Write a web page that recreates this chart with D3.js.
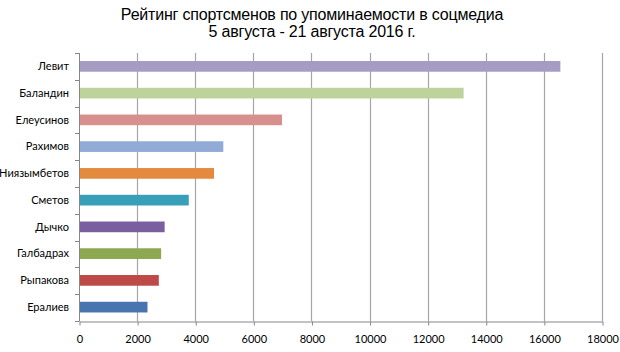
<!DOCTYPE html>
<html>
<head>
<meta charset="utf-8">
<script src="https://cdn.jsdelivr.net/npm/d3@7"></script>
<style>
  body { margin: 0; background: #fff; }
  svg text { font-family: Lato, "Open Sans", sans-serif; }
</style>
</head>
<body>
<svg id="mainsvg" width="620" height="352"></svg>
<script>
const athletes = ['Левит', 'Баландин', 'Елеусинов', 'Рахимов', 'Ниязымбетов',
  'Сметов', 'Дычко', 'Галбадрах', 'Рыпакова', 'Ералиев'];
const mentions = [16550, 13220, 6970, 4950, 4630, 3760, 2930, 2810, 2730, 2340];
const barColors = ['#a69bc2', '#bed29c', '#d8908f', '#92abd6', '#e38a3f',
  '#379fb8', '#7a5ea0', '#8ca952', '#bd4a47', '#4875b0'];
const xTicks = [0, 2000, 4000, 6000, 8000, 10000, 12000, 14000, 16000, 18000];
const titleLines = ['Рейтинг спортсменов по упоминаемости в соцмедиа', '5 августа - 21 августа 2016 г.'];

const svg = d3.select('#mainsvg');
const width = +svg.attr('width');
const height = +svg.attr('height');
const margin = { top: 53, right: 18, bottom: 31, left: 79 };
const innerWidth = width - margin.left - margin.right;
const innerHeight = height - margin.top - margin.bottom;

const g = svg.append('g').attr('id', 'maingroup')
  .attr('transform', `translate(${margin.left}, ${margin.top})`);

const data = athletes.map((name, i) => ({ name, value: mentions[i], color: barColors[i] }));

const xScale = d3.scaleLinear()
  .domain([0, 18000])
  .range([0, 523]);

const yScale = d3.scaleBand()
  .domain(athletes)
  .range([0, innerHeight - 0.5])
  .paddingInner(0.6)
  .paddingOuter(0.3);

// gridlines
g.append('g').attr('class', 'grid')
  .selectAll('line').data(xTicks.slice(1)).join('line')
  .attr('x1', d => Math.round(xScale(d)) + 0.5)
  .attr('x2', d => Math.round(xScale(d)) + 0.5)
  .attr('y1', 0)
  .attr('y2', innerHeight)
  .attr('stroke', '#a6a6a6')
  .attr('stroke-width', 1.2);

// bars
g.selectAll('.datarect').data(data).join('rect').attr('class', 'datarect')
  .attr('x', 0.5)
  .attr('y', d => yScale(d.name))
  .attr('width', d => xScale(d.value))
  .attr('height', yScale.bandwidth())
  .attr('fill', d => d.color);

// x axis
const xAxis = d3.axisBottom(xScale).tickValues(xTicks).tickFormat(d3.format('d'))
  .tickSize(4).tickSizeOuter(0);
const xAxisGroup = g.append('g').attr('id', 'xaxis')
  .attr('transform', `translate(0.5, ${Math.round(innerHeight) + 0.5})`)
  .call(xAxis);
xAxisGroup.selectAll('text')
  .attr('dy', '0.71em').attr('y', 14)
  .attr('font-size', 11).attr('fill', '#000');
xAxisGroup.selectAll('line, path').attr('stroke', '#868686');

// y axis: ticks between categories
const yAxisGroup = g.append('g').attr('id', 'yaxis');
yAxisGroup.append('line')
  .attr('x1', 0.5).attr('x2', 0.5)
  .attr('y1', 0).attr('y2', innerHeight);
yAxisGroup.selectAll('.ytick').data(d3.range(athletes.length + 1)).join('line')
  .attr('class', 'ytick')
  .attr('x1', -4).attr('x2', 0.5)
  .attr('y1', i => Math.round(i * innerHeight / athletes.length) + 0.5)
  .attr('y2', i => Math.round(i * innerHeight / athletes.length) + 0.5);
yAxisGroup.selectAll('line').attr('stroke', '#868686');
yAxisGroup.selectAll('.ylabel').data(athletes).join('text')
  .attr('class', 'ylabel')
  .attr('x', -10)
  .attr('y', d => yScale(d) + yScale.bandwidth() / 2)
  .attr('dy', '0.35em')
  .attr('text-anchor', 'end')
  .attr('font-size', 11)
  .text(d => d);

// title
svg.append('g').selectAll('text').data(titleLines).join('text')
  .attr('x', 312)
  .attr('y', (d, i) => 20 + i * 17)
  .attr('text-anchor', 'middle')
  .style('font-family', '"Liberation Sans", Arial, sans-serif')
  .attr('font-size', 16)
  .attr('letter-spacing', -0.2)
  .text(d => d);
</script>
</body>
</html>
